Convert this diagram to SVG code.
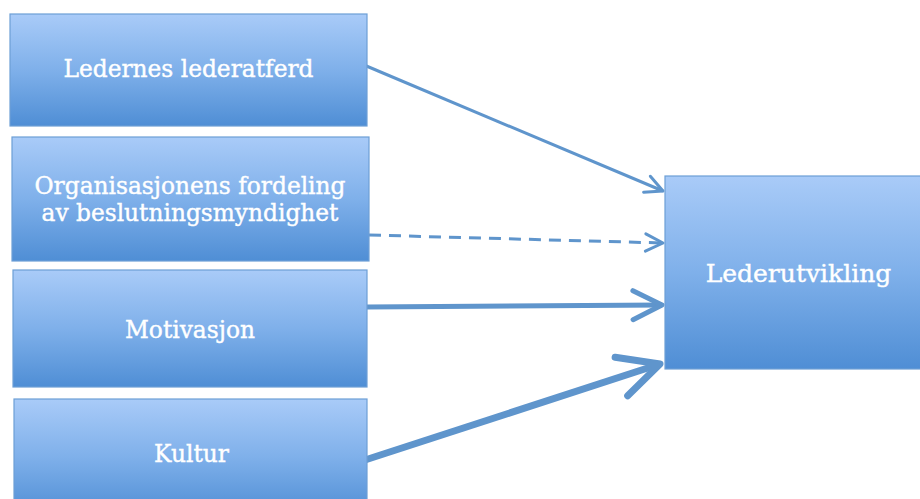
<svg xmlns="http://www.w3.org/2000/svg" width="920" height="499" viewBox="0 0 920 499">
<defs>
<linearGradient id="boxGrad" x1="0" y1="0" x2="0" y2="1">
<stop offset="0" stop-color="#a9cbf8"/>
<stop offset="0.5" stop-color="#7fb0ea"/>
<stop offset="1" stop-color="#4f8ed5"/>
</linearGradient>
<marker id="open" viewBox="-8 -5 9 10" markerWidth="9" markerHeight="10" refX="0" refY="0" markerUnits="strokeWidth" orient="auto" overflow="visible">
<path d="M -5.8 -2.9 L 0 0 L -5.8 2.9" fill="none" stroke="#5f95cc" stroke-width="1" stroke-linecap="round" stroke-linejoin="round"/>
</marker>
</defs>
<style>
.box { fill: url(#boxGrad); stroke: #6d9fd6; stroke-width: 1.2; }
.lbl { font-family: "DejaVu Serif", "Liberation Serif", serif; font-size: 23.3px; fill: #ffffff; stroke: #ffffff; stroke-width: 0.4; text-anchor: middle; }
.big { font-size: 25px; }
.conn { fill: none; stroke: #5f95cc; marker-end: url(#open); }
</style>
<g id="connectors">
<line class="conn" x1="364" y1="65" x2="663" y2="191" stroke-width="3"/>
<line class="conn" x1="369" y1="235" x2="663" y2="243" stroke-width="3" stroke-dasharray="12 8"/>
<line class="conn" x1="367" y1="307" x2="662" y2="305" stroke-width="5"/>
<line class="conn" x1="365" y1="460" x2="660" y2="364" stroke-width="7"/>
</g>
<g id="node-ledernes">
<rect class="box" x="10" y="14" width="357" height="112"/>
<text class="lbl" x="188.5" y="77">Ledernes lederatferd</text>
</g>
<g id="node-organisasjonens">
<rect class="box" x="12" y="137" width="357" height="124"/>
<text class="lbl" x="190" y="194">Organisasjonens fordeling</text>
<text class="lbl" x="190" y="221">av beslutningsmyndighet</text>
</g>
<g id="node-motivasjon">
<rect class="box" x="13" y="270" width="354" height="117"/>
<text class="lbl" x="190" y="338">Motivasjon</text>
</g>
<g id="node-kultur">
<rect class="box" x="14" y="399" width="353" height="116"/>
<text class="lbl" x="191.5" y="462">Kultur</text>
</g>
<g id="node-lederutvikling">
<rect class="box" x="665" y="176" width="270" height="193"/>
<text class="lbl big" x="798.5" y="282">Lederutvikling</text>
</g>
</svg>
